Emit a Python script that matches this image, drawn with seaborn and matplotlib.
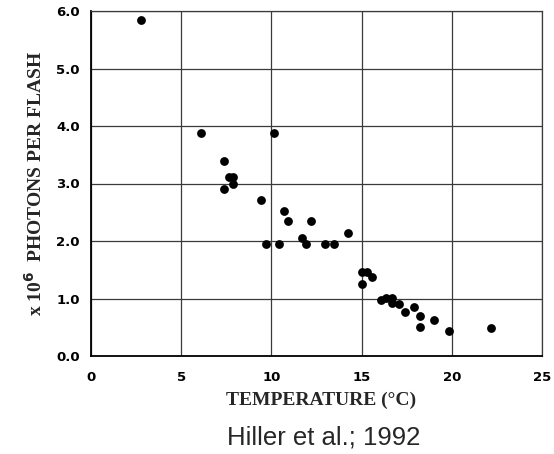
import matplotlib
matplotlib.use("Agg")
import matplotlib.pyplot as plt
import seaborn as sns
import pandas as pd
from matplotlib.ticker import MultipleLocator

temperature = [2.78, 6.11, 7.37, 7.37, 7.65, 7.89, 7.89, 9.43, 10.17,
               10.69, 10.94, 12.22, 11.70, 11.94, 9.69, 10.44, 12.96, 13.48, 14.24,
               15.04, 15.32, 15.56, 15.04, 16.06, 16.33, 16.70, 16.70, 17.06,
               17.41, 17.91, 18.26, 18.26, 19.02, 19.82, 22.17]
photons = [5.84, 3.88, 3.39, 2.91, 3.11, 3.11, 3.00, 2.72, 3.87,
           2.53, 2.34, 2.34, 2.05, 1.95, 1.95, 1.95, 1.95, 1.95, 2.14,
           1.46, 1.46, 1.37, 1.26, 0.97, 1.01, 1.01, 0.93, 0.90,
           0.77, 0.86, 0.70, 0.50, 0.63, 0.43, 0.48]
x_ticks = [0, 5, 10, 15, 20, 25]
y_ticks = [0.0, 1.0, 2.0, 3.0, 4.0, 5.0, 6.0]
y_tick_labels = ["0.0", "1.0", "2.0", "3.0", "4.0", "5.0", "6.0"]

df = pd.DataFrame({"temperature": temperature, "photons": photons})

sns.set_style("white")
fig = plt.figure(figsize=(5.54, 4.54), dpi=100)
ax = fig.add_axes([91/554, 1 - 356/454, (542 - 91)/554, (356 - 11)/454])

sns.scatterplot(data=df, x="temperature", y="photons", ax=ax, color="black",
                s=40, edgecolor="black", linewidth=0, zorder=3)

ax.set_xlim(0, 25)
ax.set_ylim(0, 6)
ax.set_xticks(x_ticks)
ax.set_xticklabels([str(t) for t in x_ticks])
ax.set_yticks(y_ticks)
ax.set_yticklabels(y_tick_labels)
ax.xaxis.set_minor_locator(MultipleLocator(1))
ax.yaxis.set_minor_locator(MultipleLocator(0.1))

ax.grid(True, which="major", color="#3a3a3a", linewidth=0.9)
for s in ["top", "right"]:
    ax.spines[s].set_color("#3a3a3a")
    ax.spines[s].set_linewidth(0.9)
for s in ["left", "bottom"]:
    ax.spines[s].set_color("black")
    ax.spines[s].set_linewidth(1.3)

ax.tick_params(axis="x", which="major", direction="out", length=5.5, width=1.2,
               pad=5, colors="black")
ax.tick_params(axis="x", which="minor", direction="out", length=3, width=1.0)
ax.tick_params(axis="y", which="major", direction="out", length=6, width=1.2,
               pad=2, colors="black")
ax.tick_params(axis="y", which="minor", direction="out", length=3.3, width=0.9)
for lab in ax.get_xticklabels() + ax.get_yticklabels():
    lab.set_fontfamily("DejaVu Sans")
    lab.set_fontweight("bold")
    lab.set_fontsize(9.5)

ax.set_xlabel("TEMPERATURE (°C)", family="Liberation Serif", weight="bold",
              fontsize=14)
ax.xaxis.set_label_coords((321.5 - 91) / 451, (356 - 392) / 345)
ax.set_ylabel(r"x 10$^{\mathbf{6}}$  PHOTONS PER FLASH", family="Liberation Serif",
              weight="bold", fontsize=14)
ax.yaxis.set_label_coords((46 - 91) / 451, 0.5)

fig.text(323.5/554, 1 - 438/454, "Hiller et al.; 1992", ha="center", va="center",
         family="Liberation Sans", fontsize=18.5)

fig.savefig("out.png", dpi=100)
